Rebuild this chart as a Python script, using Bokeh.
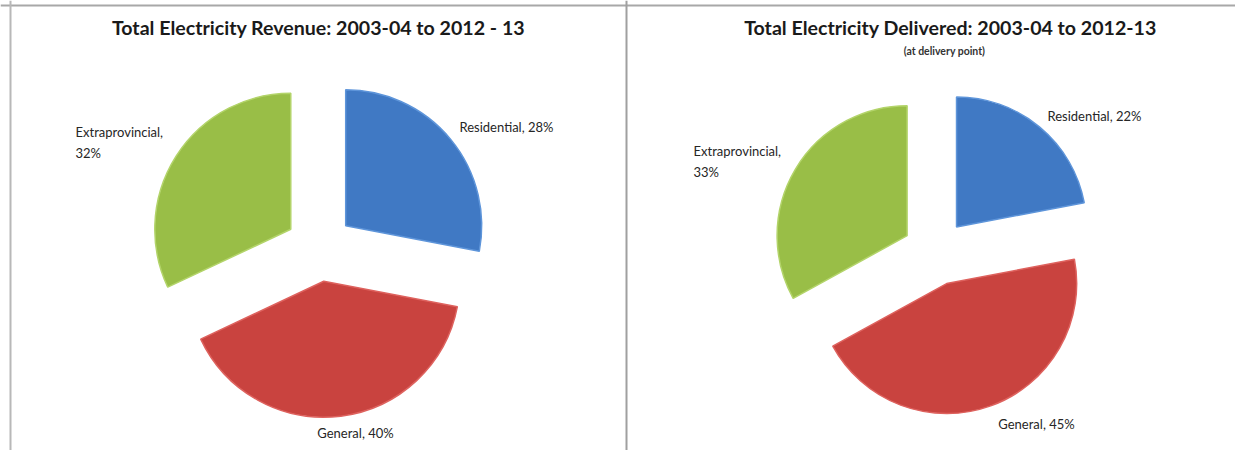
import math
from bokeh.plotting import figure
from bokeh.models import Range1d, Span, ColumnDataSource
from bokeh.core.properties import value
from bokeh.embed import file_html
from bokeh.resources import INLINE

# ---- data ----
categories = ["Residential", "General", "Extraprovincial"]
revenue_pct = [28, 40, 32]
delivered_pct = [22, 45, 33]
slice_colors = ["#4079c4", "#c9433f", "#99be47"]
slice_edges = ["#5e95da", "#de625e", "#b3d46a"]

title_left = "Total Electricity Revenue: 2003-04 to 2012 - 13"
title_right = "Total Electricity Delivered: 2003-04 to 2012-13"
subtitle_right = "(at delivery point)"

W, H = 1235, 450
FONT = "Lato"

p = figure(width=W, height=H, x_range=Range1d(0, W), y_range=Range1d(0, H),
           output_backend="svg", toolbar_location=None, min_border=0)
p.axis.visible = False
p.grid.visible = False
p.outline_line_color = None
p.background_fill_color = "white"
p.border_fill_color = "white"


def pie(values, cx, cy, r, explode):
    total = float(sum(values))
    xs, ys, starts, ends = [], [], [], []
    cum = 0.0
    for v in values:
        a0 = math.pi / 2 - 2 * math.pi * cum / total
        cum += v
        a1 = math.pi / 2 - 2 * math.pi * cum / total
        mid = (a0 + a1) / 2
        xs.append(cx + explode * math.cos(mid))
        ys.append(cy + explode * math.sin(mid))
        starts.append(a1)
        ends.append(a0)
    src = ColumnDataSource(dict(x=xs, y=ys, s=starts, e=ends,
                                c=slice_colors, lc=slice_edges))
    p.wedge(x="x", y="y", radius=r, start_angle="s", end_angle="e",
            fill_color="c", line_color="lc", line_width=1.5, source=src)


# left pie: revenue
pie(revenue_pct, 319, H - 247, 136, 34)
# right pie: delivered
pie(delivered_pct, 935, H - 252, 130, 33)

label_color = "#262626"


def label(x, y, txt, align="left"):
    p.text(x=[x], y=[y], text=[txt], text_font=value(FONT), text_font_size="13px",
           text_color=label_color, text_align=align, text_baseline="middle",
           text_line_height=1.3)


# left labels
label(459, H - 126, f"{categories[0]}, {revenue_pct[0]}%")
label(355, H - 432, f"{categories[1]}, {revenue_pct[1]}%", "center")
label(75, H - 142, f"{categories[2]},\n{revenue_pct[2]}%")
# right labels
label(1047, H - 115, f"{categories[0]}, {delivered_pct[0]}%")
label(1036, H - 423, f"{categories[1]}, {delivered_pct[1]}%", "center")
label(693, H - 161, f"{categories[2]},\n{delivered_pct[2]}%")

# titles
p.text(x=[318], y=[H - 27], text=[title_left], text_font=value(FONT),
       text_font_size="19.6px", text_font_style="bold", text_color="#1a1a1a",
       text_align="center", text_baseline="middle")
p.text(x=[950], y=[H - 27], text=[title_right], text_font=value(FONT),
       text_font_size="19.6px", text_font_style="bold", text_color="#1a1a1a",
       text_align="center", text_baseline="middle")
p.text(x=[944], y=[H - 50], text=[subtitle_right], text_font=value(FONT),
       text_font_size="10.5px", text_font_style="bold", text_color="#333333",
       text_align="center", text_baseline="middle")

# frame lines
p.add_layout(Span(location=H - 5, dimension="width", line_color="#a8a8a8", line_width=2))
p.add_layout(Span(location=10, dimension="height", line_color="#b8b8b8", line_width=2))
p.add_layout(Span(location=626, dimension="height", line_color="#a0a0a0", line_width=2))

open("out.html", "w").write(file_html(p, INLINE))
